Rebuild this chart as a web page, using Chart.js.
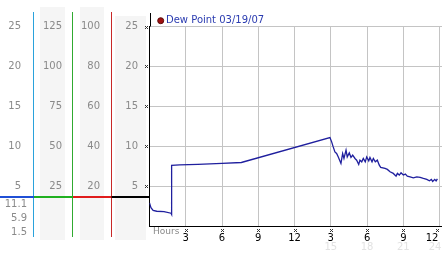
<!DOCTYPE html>
<html>
<head>
<meta charset="utf-8">
<script src="https://cdn.jsdelivr.net/npm/chart.js@4"></script>
<style>
html,body{margin:0;padding:0;background:#fff;}
#wrap{position:relative;width:442px;height:253px;}
</style>
</head>
<body>
<div id="wrap"><canvas id="c" width="442" height="253"></canvas></div>
<script>
// ---- data ----
const legendLabel = 'Dew Point 03/19/07';
const hours = [0, 0.12, 0.3, 0.6, 1.2, 1.78, 1.8, 1.86, 2.5, 4, 6, 7.6, 14.93,
  15.07, 15.2, 15.34, 15.48, 15.62, 15.84, 15.98, 16.09, 16.26, 16.36, 16.53, 16.67, 16.81,
  17.0, 17.14, 17.31, 17.41, 17.56, 17.69, 17.85, 17.97, 18.14, 18.24, 18.41, 18.52, 18.68,
  18.85, 19.01, 19.13, 19.49, 19.68, 19.9, 20.17, 20.4, 20.51, 20.67, 20.81, 21.0, 21.17,
  21.33, 21.56, 21.83, 22.11, 22.39, 22.66, 22.94, 23.16, 23.32, 23.43, 23.6, 23.71, 23.82];
const dewPoint = [2.9, 2.3, 1.95, 1.85, 1.8, 1.6, 1.45, 7.6, 7.65, 7.72, 7.85, 7.96, 11.09,
  10.54, 9.91, 9.29, 9.09, 8.66, 7.84, 9.09, 8.46, 9.5, 8.66, 9.16, 8.59, 8.88,
  8.46, 8.25, 7.71, 8.25, 8.04, 8.46, 8.04, 8.66, 8.16, 8.59, 8.04, 8.46, 8.04,
  8.25, 7.63, 7.34, 7.21, 7.09, 6.79, 6.59, 6.25, 6.59, 6.38, 6.66, 6.38, 6.5,
  6.25, 6.16, 6.04, 6.16, 6.09, 5.96, 5.84, 5.66, 5.84, 5.59, 5.84, 5.66, 5.91];
const col1Ticks = [25, 20, 15, 10, 5];
const col2Ticks = [125, 100, 75, 50, 25];
const col3Ticks = [100, 80, 60, 40, 20];
const col4Ticks = [25, 20, 15, 10, 5];
const lowerTicks = ['11.1', '5.9', '1.5'];
const lateHours = [15, 18, 21, 24];
const lateHourLabels = ['15', '18', '21', '24'];
const xAxisTitle = 'Hours';

const FONT = '10px "DejaVu Sans"';
const GRAY = '#8a8a8a';

function xmark(ctx, cx, cy) {
  ctx.beginPath();
  ctx.moveTo(cx - 1.5, cy - 1.5); ctx.lineTo(cx + 1.5, cy + 1.5);
  ctx.moveTo(cx + 1.5, cy - 1.5); ctx.lineTo(cx - 1.5, cy + 1.5);
  ctx.stroke();
}

const panels = {
  id: 'panels',
  beforeDraw(chart) {
    const ctx = chart.ctx;
    ctx.save();
    ctx.fillStyle = '#f5f5f5';
    ctx.fillRect(40, 7, 25, 233);
    ctx.fillRect(80, 7, 24, 233);
    ctx.fillRect(115, 16, 31, 224);
    ctx.restore();
  },
  afterDraw(chart) {
    const ctx = chart.ctx, y = chart.scales.y, x = chart.scales.x, a = chart.chartArea;
    ctx.save();
    // colored vertical lines
    const vl = [[33.5, '#2aa2dc'], [72.5, '#30aa30'], [111.5, '#c82828']];
    ctx.lineWidth = 1;
    vl.forEach(([vx, c]) => { ctx.strokeStyle = c; ctx.beginPath(); ctx.moveTo(vx, 12); ctx.lineTo(vx, 237); ctx.stroke(); });
    // divider
    const dy = 197;
    const hs = [[0, 34, '#1f4fd6'], [34, 73, '#20b020'], [73, 111.5, '#e01c1c'], [111.5, 149.5, '#000']];
    ctx.lineWidth = 2;
    hs.forEach(([x0, x1, c]) => { ctx.strokeStyle = c; ctx.beginPath(); ctx.moveTo(x0, dy); ctx.lineTo(x1, dy); ctx.stroke(); });
    // axis extension above the grid
    ctx.strokeStyle = '#000'; ctx.lineWidth = 1;
    ctx.beginPath(); ctx.moveTo(Math.round(a.left) + 0.5, 13); ctx.lineTo(Math.round(a.left) + 0.5, a.top); ctx.stroke();
    // labels
    ctx.font = FONT; ctx.fillStyle = GRAY; ctx.textAlign = 'right'; ctx.textBaseline = 'middle';
    col1Ticks.forEach(v => ctx.fillText(String(v), 21, y.getPixelForValue(v)));
    col2Ticks.forEach((v, i) => ctx.fillText(String(v), 62, y.getPixelForValue(col1Ticks[i])));
    col3Ticks.forEach((v, i) => ctx.fillText(String(v), 100, y.getPixelForValue(col1Ticks[i])));
    col4Ticks.forEach(v => ctx.fillText(String(v), 138, y.getPixelForValue(v)));
    const ly = [204, 218.5, 232.5];
    lowerTicks.forEach((t, i) => ctx.fillText(t, 27, ly[i]));
    // y tick marks
    ctx.strokeStyle = '#333'; ctx.lineWidth = 1;
    col4Ticks.forEach(v => xmark(ctx, 146.5, Math.round(y.getPixelForValue(v)) + 0.5));
    // x tick marks
    for (let h = 3; h <= 24; h += 3) xmark(ctx, Math.min(Math.round(x.getPixelForValue(h)) + 0.5, 437.5), 230.5);
    // hours title
    ctx.font = '9px "DejaVu Sans"';
    ctx.textAlign = 'left'; ctx.fillStyle = GRAY;
    ctx.fillText(xAxisTitle, 153, 231.5);
    // late hour labels
    ctx.font = FONT;
    ctx.textAlign = 'center'; ctx.fillStyle = '#e2e2e2';
    lateHours.forEach((h, i) => ctx.fillText(lateHourLabels[i], Math.min(x.getPixelForValue(h), 435), 247.5));
    // legend
    ctx.fillStyle = '#a01010'; ctx.strokeStyle = '#5a0a0a';
    ctx.beginPath(); ctx.arc(160.7, 20.7, 3, 0, Math.PI * 2); ctx.fill(); ctx.stroke();
    ctx.fillStyle = '#2a3bb0'; ctx.textAlign = 'left';
    ctx.fillText(chart.data.datasets[0].label, 166, 20.5);
    ctx.restore();
  }
};

new Chart(document.getElementById('c'), {
  type: 'line',
  data: {
    datasets: [{
      label: legendLabel,
      data: hours.map((h, i) => ({ x: h, y: dewPoint[i] })),
      borderColor: '#1f1f9e',
      borderWidth: 1.3,
      pointRadius: 0,
      tension: 0,
      fill: false
    }]
  },
  options: {
    responsive: false,
    animation: false,
    devicePixelRatio: 1,
    layout: { padding: { left: 149.5, top: 26.5, right: 0, bottom: 0 } },
    plugins: { legend: { display: false }, tooltip: { enabled: false } },
    scales: {
      x: {
        type: 'linear', min: 0, max: 24.2,
        afterFit(s) { s.height = 27; s.paddingLeft = 0; s.paddingRight = 0; },
        ticks: {
          stepSize: 3, includeBounds: false, autoSkip: false, maxRotation: 0,
          color: '#000', font: { family: 'DejaVu Sans', size: 10 }, padding: 6,
          callback: v => (v === 0 ? '' : String(v % 12 === 0 ? 12 : v % 12) + (v === 24 ? '\u2003\u2002' : ''))
        },
        grid: { color: '#c4c4c4', lineWidth: 1, drawTicks: false },
        border: { color: '#000', width: 1 }
      },
      y: {
        min: 0, max: 25,
        afterFit(s) { s.width = 0; s.paddingTop = 0; s.paddingBottom = 0; },
        ticks: { display: false, stepSize: 5 },
        grid: { color: '#c4c4c4', lineWidth: 1, drawTicks: false },
        border: { color: '#000', width: 1 }
      }
    }
  },
  plugins: [panels]
});
</script>
</body>
</html>
